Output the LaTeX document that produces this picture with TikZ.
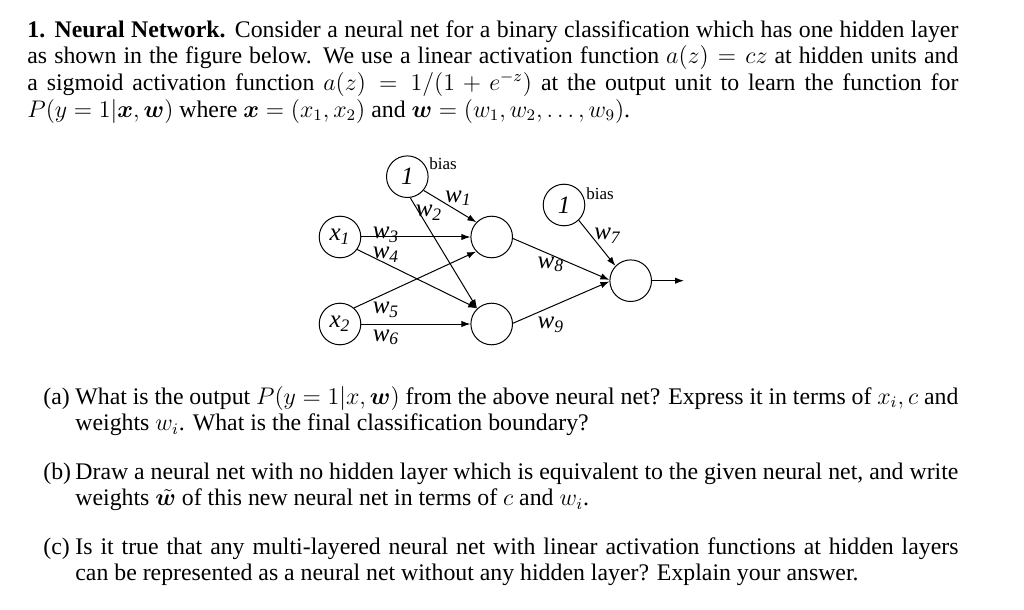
\documentclass[tikz,border=0pt]{standalone}
\usepackage{amsmath}
\usepackage{bm}
\usepackage{fontspec}
\setmainfont{Liberation Serif}
\usetikzlibrary{
  arrows.meta
}
\tikzset{
  every neuron/.style={circle,draw,line width=0.5pt,minimum size=20.8pt,inner sep=0pt},
  neuron/.style={every neuron,font=\fontsize{12.5}{14}\selectfont\itshape},
  conn/.style={line width=0.5pt,-{Latex[length=4.5pt,width=3.2pt]}},
  weight/.style={font=\fontsize{12.5}{14}\selectfont\itshape,inner sep=0pt},
  biastext/.style={font=\fontsize{8.5}{9}\selectfont,inner sep=0pt},
  textline/.style={anchor=base west,inner sep=0pt,font=\fontsize{11.9}{14}\selectfont},
}
\newcommand{\jline}[2]{\makebox[#1][s]{#2}}

\begin{document}
\begin{tikzpicture}[x=0.5pt,y=-0.5pt]
\useasboundingbox (0,0) rectangle (1024,610);
% question text
\node[textline] (p1) at (27,37.3) {\jline{465.5pt}{\textbf{1. Neural Network.} Consider a neural net for a binary classification which has one hidden layer}};
\node[textline] (p2) at (27,64) {\jline{465.5pt}{as shown in the figure below. We use a linear activation function $a(z) = cz$ at hidden units and}};
\node[textline] (p3) at (27,90.7) {\jline{465.5pt}{a sigmoid activation function $a(z) = 1/(1+e^{-z})$ at the output unit to learn the function for}};
\node[textline] (p4) at (27,117.3) {$P(y=1|\bm{x},\bm{w})$ where $\bm{x}=(x_1,x_2)$ and $\bm{w}=(w_1,w_2,\ldots,w_9)$.};
% network
\node[neuron] (b1) at (407.3,176.7) {1};
\node[neuron] (x1) at (340,237) {x\textsubscript{1}};
\node[neuron] (x2) at (340,324) {x\textsubscript{2}};
\node[neuron] (h1) at (491.7,237) {};
\node[neuron] (h2) at (491.7,324) {};
\node[neuron] (b2) at (564,205) {1};
\node[neuron] (out) at (630.7,280.7) {};
\coordinate (outend) at (684,280.7);
\draw[conn] (b1.-40) -- (h1.136);
\draw[conn] (b1.-82) -- (h2.133);
\draw[conn] (x1.east) -- (h1.west);
\draw[conn] (x1.-36) -- (h2.133);
\draw[conn] (x2.49) -- (h1.223);
\draw[conn] (x2.east) -- (h2.west);
\draw[conn] (h1.-4) -- (out.178);
\draw[conn] (h2.2) -- (out.182);
\draw[conn] (b2.-46) -- (out.136);
\draw[conn] (out.east) -- (outend);
% weights
\node[biastext] (bias1) at (443,164) {bias};
\node[biastext] (bias2) at (600,194) {bias};
\node[weight] (w1) at (458.3,198.3) {w\textsubscript{1}};
\node[weight] (w2) at (429,212.5) {w\textsubscript{2}};
\node[weight] (w3) at (386,234.7) {w\textsubscript{3}};
\node[weight] (w4) at (386,255) {w\textsubscript{4}};
\node[weight] (w5) at (386,310) {w\textsubscript{5}};
\node[weight] (w6) at (386,337.5) {w\textsubscript{6}};
\node[weight] (w7) at (607.5,235.8) {w\textsubscript{7}};
\node[weight] (w8) at (550.8,264.2) {w\textsubscript{8}};
\node[weight] (w9) at (550.8,325) {w\textsubscript{9}};
% parts
\node[textline] (qa) at (43,404) {(a)};
\node[textline] (qa1) at (75,404) {\jline{441.5pt}{What is the output $P(y=1|x,\bm{w})$ from the above neural net? Express it in terms of $x_i, c$ and}};
\node[textline] (qa2) at (75,430.7) {weights $w_i$. What is the final classification boundary?};
\node[textline] (qb) at (43,479) {(b)};
\node[textline] (qb1) at (75,479) {\jline{441.5pt}{Draw a neural net with no hidden layer which is equivalent to the given neural net, and write}};
\node[textline] (qb2) at (75,505.7) {weights $\tilde{\bm{w}}$ of this new neural net in terms of $c$ and $w_i$.};
\node[textline] (qc) at (43,554) {(c)};
\node[textline] (qc1) at (75,554) {\jline{441.5pt}{Is it true that any multi-layered neural net with linear activation functions at hidden layers}};
\node[textline] (qc2) at (75,580.7) {can be represented as a neural net without any hidden layer? Explain your answer.};
\end{tikzpicture}
\end{document}
